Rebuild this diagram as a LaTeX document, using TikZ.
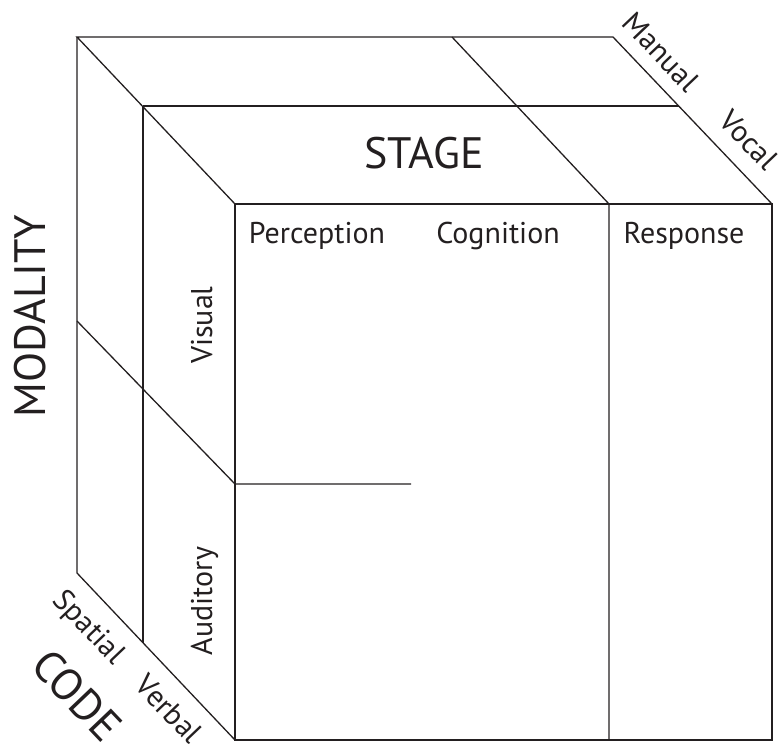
\documentclass[tikz,border=0pt]{standalone}
\usepackage{fontspec}
\setmainfont{PT Sans}
\usetikzlibrary{calc}
\definecolor{ink}{RGB}{35,31,32}
\begin{document}
\begin{tikzpicture}[x=1pt,y=-1pt,
  edge/.style={draw=ink,line width=1.3pt,line join=miter},
  small/.style={text=ink,inner sep=0pt,font=\fontsize{30}{30}\selectfont},
  big/.style={text=ink,inner sep=0pt,font=\fontsize{44}{44}\selectfont},
  slant/.style={rotate=-46.4}]
\useasboundingbox (0,0) rectangle (778,747);
% corners of the cube
\coordinate (B1) at (77,37);
\coordinate (B2) at (613,37);
\coordinate (B4) at (77,573);
\coordinate (F1) at (235,204);
\coordinate (F2) at (772,204);
\coordinate (F3) at (772,740);
\coordinate (F4) at (235,740);
% code slice (spatial / verbal)
\coordinate (M1) at (143,106);
\coordinate (M2) at (679,106);
\coordinate (M3) at (143,643);
% stage divider (cognition / response)
\coordinate (S1) at (452,37);
\coordinate (S2) at (609,204);
\coordinate (S3) at (609,740);
% modality divider (visual / auditory)
\coordinate (V1) at (77,321);
\coordinate (V2) at (235,484);
\coordinate (V3) at (411,484);

% outline
\draw[edge] (F1) rectangle (F3);
\draw[edge] (F1) -- (B1) -- (B2) -- (F2);
\draw[edge] (B1) -- (B4) -- (F4);
% inner lines
\draw[edge] (M1) -- (M2);
\draw[edge] (M1) -- (M3);
\draw[edge] (S1) -- (S2) -- (S3);
\draw[edge] (V1) -- (V2) -- (V3);

% stage labels
\node[big,anchor=base] (stage) at (424,168) {STAGE};
\node[small,anchor=base] (perc) at (317,243) {Perception};
\node[small,anchor=base] (cogn) at (498,243) {Cognition};
\node[small,anchor=base] (resp) at (684,243) {Response};
% modality labels
\node[big,anchor=base,rotate=90] (moda) at (45,316) {MODALITY};
\node[small,anchor=base,rotate=90] (vis) at (212,325) {Visual};
\node[small,anchor=base,rotate=90] (aud) at (212,601) {Auditory};
% code and response labels
\node[small,slant] (manual) at (661,52) {Manual};
\node[small,slant] (vocal) at (749,140) {Vocal};
\node[small,slant] (spatial) at (88,628) {Spatial};
\node[small,slant] (verbal) at (169,709) {Verbal};
\node[big,slant] (code) at (77,695) {CODE};
\end{tikzpicture}
\end{document}
